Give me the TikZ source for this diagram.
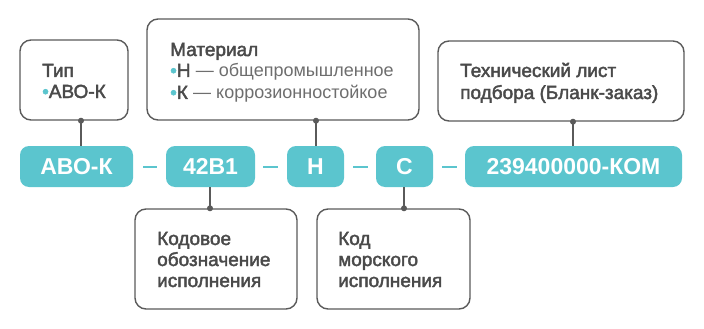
\documentclass[tikz,border=0pt]{standalone}
\usepackage{fontspec}
\setmainfont{Liberation Sans}
\newfontfamily\medfont{Liberation Sans}[FakeBold=2.2]
\definecolor{teal1}{HTML}{5BC5CE}
\definecolor{edge}{HTML}{5A5A5A}
\definecolor{txt}{HTML}{4A4A4A}
\definecolor{light}{HTML}{6E6E6E}
\begin{document}
\begin{tikzpicture}[x=1pt,y=-1pt,
  pill/.style={fill=teal1,draw=none,rounded corners=9pt,minimum height=41pt,inner sep=0pt,
    text=white,font=\fontsize{23}{26}\selectfont\bfseries},
  infobox/.style={draw=edge,line width=1.4pt,rounded corners=11pt,inner sep=0pt,fill=white},
  label/.style={anchor=base west,inner sep=0pt,text=txt,font=\fontsize{19}{22}\selectfont\medfont},
  link/.style={draw=edge,line width=1.4pt},
  sep/.style={draw=teal1,line width=2pt},
  pin/.style={circle,fill=edge,inner sep=0pt,minimum size=6pt}]
\useasboundingbox (0,0) rectangle (704,329);
% pills
\node[pill,minimum width=113pt] (p1) at (76.5,166.5) {АВО-К};
\node[pill,minimum width=89pt] (p2) at (210.5,166.5) {42В1};
\node[pill,minimum width=57pt] (p3) at (315.5,166.5) {Н};
\node[pill,minimum width=57pt] (p4) at (404.5,166.5) {С};
\node[pill,minimum width=217pt] (p5) at (573.5,166.5) {239400000-КОМ};
% separators
\coordinate (s1a) at (143,166.5); \coordinate (s1b) at (157,166.5);
\coordinate (s2a) at (263,166.5); \coordinate (s2b) at (278,166.5);
\coordinate (s3a) at (353,166.5); \coordinate (s3b) at (368,166.5);
\coordinate (s4a) at (442,166.5); \coordinate (s4b) at (457,166.5);
\draw[sep] (s1a) -- (s1b);
\draw[sep] (s2a) -- (s2b);
\draw[sep] (s3a) -- (s3b);
\draw[sep] (s4a) -- (s4b);
% boxes
\node[infobox,minimum width=108pt,minimum height=80pt] (b1) at (74,80) {};
\node[infobox,minimum width=272pt,minimum height=101pt] (b2) at (283,69.5) {};
\node[infobox,minimum width=246pt,minimum height=80pt] (b3) at (561,81) {};
\node[infobox,minimum width=162pt,minimum height=100pt] (b4) at (216,259) {};
\node[infobox,minimum width=153pt,minimum height=100pt] (b5) at (393.5,259) {};
% texts
\node[label] (t1a) at (42,77) {Тип};
\node[label] (t1b) at (42,98) {\textcolor{teal1}{•}АВО-К};
\node[label] (t2a) at (170,56) {Материал};
\node[label] (t2b) at (170,77) {\textcolor{teal1}{•}Н {\fontsize{18}{22}\selectfont\normalfont\color{light} — общепромышленное}};
\node[label] (t2c) at (170,99) {\textcolor{teal1}{•}К {\fontsize{18}{22}\selectfont\normalfont\color{light} — коррозионностойкое}};
\node[label] (t3a) at (460,77) {Технический лист};
\node[label] (t3b) at (460,99) {подбора (Бланк-заказ)};
\node[label] (t4a) at (157,245) {Кодовое};
\node[label] (t4b) at (157,266) {обозначение};
\node[label] (t4c) at (157,287) {исполнения};
\node[label] (t5a) at (338,245) {Код};
\node[label] (t5b) at (338,266) {морского};
\node[label] (t5c) at (338,287) {исполнения};
% connectors
\draw[link] (p1.north -| 81,0) -- (b1.south -| 81,0) node[pin] (d1) {};
\draw[link] (p3.north -| 316,0) -- (b2.south -| 316,0) node[pin] (d2) {};
\draw[link] (p5.north -| 573,0) -- (b3.south -| 573,0) node[pin] (d3) {};
\draw[link] (p2.south -| 210,0) -- (b4.north -| 210,0) node[pin] (d4) {};
\draw[link] (p4.south -| 404,0) -- (b5.north -| 404,0) node[pin] (d5) {};
\end{tikzpicture}
\end{document}
